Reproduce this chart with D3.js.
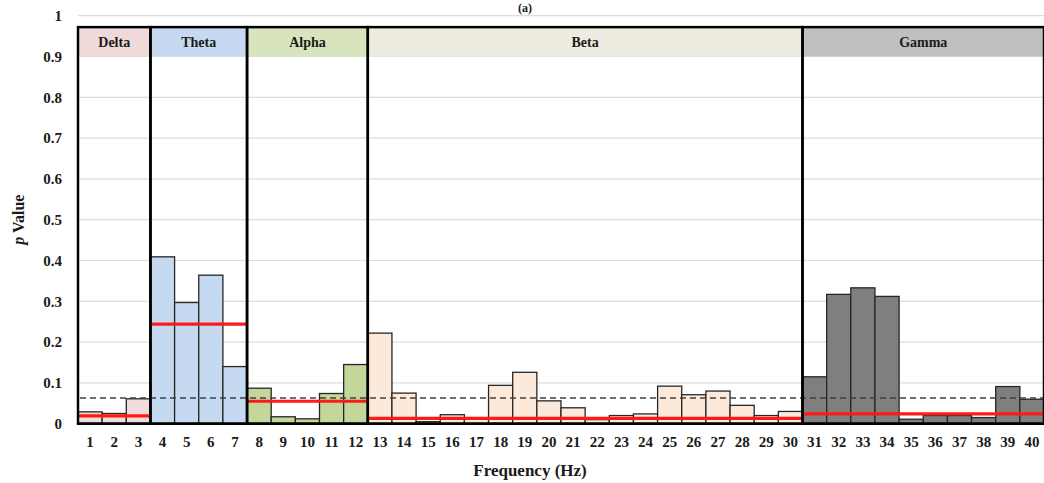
<!DOCTYPE html>
<html>
<head>
<meta charset="utf-8">
<script src="https://cdn.jsdelivr.net/npm/d3@7/dist/d3.min.js"></script>
<style>
  html, body { margin: 0; padding: 0; background: #fff; }
  text { font-family: "Liberation Serif", "Times New Roman", serif; font-weight: bold; fill: #1a1a1a; }
</style>
</head>
<body>
<svg id="chart" width="1044" height="483"></svg>
<script>
// ---- Data ----
const frequencies = d3.range(1, 41);
const pValues = [
  0.029, 0.025, 0.061,                 // Delta 1-3
  0.409, 0.297, 0.364, 0.140,          // Theta 4-7
  0.087, 0.017, 0.012, 0.074, 0.145,   // Alpha 8-12
  0.222, 0.075, 0.005, 0.022, 0.012, 0.094, 0.126, 0.056, 0.039, 0.010,
  0.020, 0.024, 0.092, 0.071, 0.080, 0.045, 0.020, 0.030,   // Beta 13-30
  0.115, 0.317, 0.333, 0.312, 0.011, 0.020, 0.020, 0.015, 0.091, 0.060 // Gamma 31-40
];
const bandNames = ["Delta", "Theta", "Alpha", "Beta", "Gamma"];
const bandStart = [1, 4, 8, 13, 31];
const bandEnd = [3, 7, 12, 30, 40];
const bandMeans = [0.019, 0.244, 0.055, 0.013, 0.024];
const bandBarColors = ["#f2dcdb", "#c5d9f1", "#c4d79b", "#fde9d9", "#7f7f7f"];
const bandHeadColors = ["#f0d9d9", "#c6d9f0", "#d7e4bd", "#eeece1", "#bfbfbf"];
const threshold = 0.063;
const yTicks = [0, 0.1, 0.2, 0.3, 0.4, 0.5, 0.6, 0.7, 0.8, 0.9, 1];
const yTickLabels = ["0", "0.1", "0.2", "0.3", "0.4", "0.5", "0.6", "0.7", "0.8", "0.9", "1"];

// ---- Layout ----
const svg = d3.select("#chart");
const mLeft = 78, mRight = 1044, mTop = 15.7, mBottom = 423.7;
const boxTopValue = 0.972, headBottomValue = 0.9;

const x = d3.scaleBand().domain(frequencies).range([mLeft, mRight]).padding(0);
const y = d3.scaleLinear().domain([0, 1]).range([mBottom, mTop]);

const bandOf = f => bandStart.findIndex((s, i) => f >= s && f <= bandEnd[i]);

// gridlines
svg.append("g").selectAll("line").data(yTicks.filter(t => t > 0)).join("line")
  .attr("x1", mLeft).attr("x2", mRight)
  .attr("y1", d => y(d)).attr("y2", d => y(d))
  .attr("stroke", "#dcdcdc").attr("stroke-width", 1.2);

// band header backgrounds
svg.append("g").selectAll("rect").data(bandNames).join("rect")
  .attr("x", (d, i) => x(bandStart[i]))
  .attr("width", (d, i) => x(bandEnd[i]) + x.bandwidth() - x(bandStart[i]))
  .attr("y", y(boxTopValue))
  .attr("height", y(headBottomValue) - y(boxTopValue))
  .attr("fill", (d, i) => bandHeadColors[i]);

// band header labels
svg.append("g").selectAll("text").data(bandNames).join("text")
  .attr("x", (d, i) => (x(bandStart[i]) + x(bandEnd[i]) + x.bandwidth()) / 2)
  .attr("y", (y(boxTopValue) + y(headBottomValue)) / 2 + 5)
  .attr("text-anchor", "middle")
  .style("font-size", "14px")
  .text(d => d);

// bars
svg.append("g").selectAll("rect").data(frequencies).join("rect")
  .attr("x", d => x(d))
  .attr("width", x.bandwidth())
  .attr("y", (d, i) => y(pValues[i]))
  .attr("height", (d, i) => y(0) - y(pValues[i]))
  .attr("fill", d => bandBarColors[bandOf(d)])
  .attr("stroke", "#262626").attr("stroke-width", 1.3);

// band mean red lines
svg.append("g").selectAll("line").data(bandNames).join("line")
  .attr("x1", (d, i) => x(bandStart[i]))
  .attr("x2", (d, i) => x(bandEnd[i]) + x.bandwidth())
  .attr("y1", (d, i) => y(bandMeans[i]))
  .attr("y2", (d, i) => y(bandMeans[i]))
  .attr("stroke", "#ff1a1a").attr("stroke-width", 3.2);

// threshold dashed line
svg.append("line")
  .attr("x1", mLeft + 2).attr("x2", mRight)
  .attr("y1", y(threshold)).attr("y2", y(threshold))
  .attr("stroke", "#404040").attr("stroke-width", 1.5)
  .attr("stroke-dasharray", "6,4");

// band boxes
svg.append("g").selectAll("rect").data(bandNames).join("rect")
  .attr("x", (d, i) => x(bandStart[i]))
  .attr("width", (d, i) => x(bandEnd[i]) + x.bandwidth() - x(bandStart[i]))
  .attr("y", y(boxTopValue))
  .attr("height", y(0) - y(boxTopValue))
  .attr("fill", "none")
  .attr("stroke", "#000").attr("stroke-width", 2.5);

// baseline
svg.append("line")
  .attr("x1", mLeft).attr("x2", mRight)
  .attr("y1", y(0)).attr("y2", y(0))
  .attr("stroke", "#000").attr("stroke-width", 2.5);

// y axis labels
const yAxis = d3.axisLeft(y).tickValues(yTicks).tickSize(0).tickPadding(16)
  .tickFormat((d, i) => yTickLabels[i]);
const gy = svg.append("g").attr("transform", `translate(${mLeft},0)`).call(yAxis);
gy.select(".domain").remove();
gy.selectAll("text").style("font-size", "15px")
  .style("font-family", "'Liberation Serif', serif").style("font-weight", "bold").attr("fill", "#1a1a1a");

// x axis labels
const xAxis = d3.axisBottom(x).tickSize(0).tickPadding(13);
const gx = svg.append("g").attr("transform", `translate(0,${y(0)})`).call(xAxis);
gx.select(".domain").remove();
gx.selectAll("text").style("font-size", "15px")
  .style("font-family", "'Liberation Serif', serif").style("font-weight", "bold").attr("fill", "#1a1a1a");

// axis titles
svg.append("text")
  .attr("x", 530).attr("y", 476)
  .attr("text-anchor", "middle")
  .style("font-size", "17px")
  .text("Frequency (Hz)");

const yt = svg.append("text")
  .attr("transform", `translate(24,${(y(0) + y(1)) / 2}) rotate(-90)`)
  .attr("text-anchor", "middle")
  .style("font-size", "16px");
yt.append("tspan").style("font-style", "italic").text("p");
yt.append("tspan").text(" Value");

// panel title
svg.append("text")
  .attr("x", 525).attr("y", 12)
  .attr("text-anchor", "middle")
  .style("font-size", "12px")
  .text("(a)");
</script>
</body>
</html>
